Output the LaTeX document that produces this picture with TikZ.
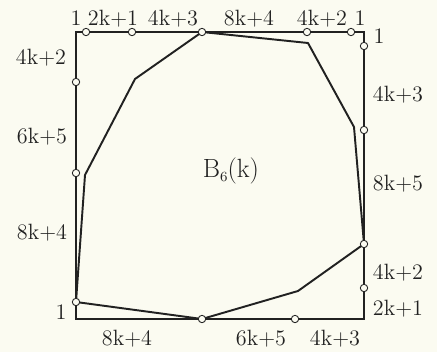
\documentclass[tikz,border=0pt]{standalone}
\definecolor{paper}{rgb}{0.985,0.985,0.945}
\definecolor{ink}{gray}{0.13}
\usepackage{tikz}
\usetikzlibrary{positioning,backgrounds}
\tikzset{
  frame/.style={ink,line width=0.6pt},
  hull/.style={ink,line width=1.1pt,line join=round},
  vtx/.style={circle,draw=ink,fill=paper,line width=0.5pt,inner sep=0pt,minimum size=4.2pt},
  seglab/.style={ink,inner sep=0pt,font=\fontsize{12.6}{14}\selectfont},
  titlelab/.style={ink,inner sep=0pt,font=\fontsize{15}{17}\selectfont},
}

\begin{document}
\begin{tikzpicture}[x=0.02cm,y=-0.02cm]
        \useasboundingbox (0,0) rectangle (437,352);
        % corners of the square
        \coordinate (tl) at (76,32);
        \coordinate (tr) at (364,32);
        \coordinate (br) at (364,319);
        \coordinate (bl) at (76,319);
        % inner corners of the hull
        \coordinate (p2) at (308,43);
        \coordinate (p3) at (354,127);
        \coordinate (p5) at (298,291);
        \coordinate (p8) at (85,175);
        \coordinate (p9) at (135,79);
        % marks on the sides
        \node[vtx] (t1) at (86,32) {};
        \node[vtx] (t2) at (132,32) {};
        \node[vtx] (t3) at (202,32) {};
        \node[vtx] (t4) at (307,32) {};
        \node[vtx] (t5) at (351,32) {};
        \node[vtx] (r1) at (364,46) {};
        \node[vtx] (r2) at (364,130) {};
        \node[vtx] (r3) at (364,244) {};
        \node[vtx] (r4) at (364,288) {};
        \node[vtx] (b1) at (202,319) {};
        \node[vtx] (b2) at (295,319) {};
        \node[vtx] (l1) at (76,82) {};
        \node[vtx] (l2) at (76,173) {};
        \node[vtx] (l3) at (76,302) {};
        \begin{scope}[on background layer]
          \fill[paper] (0,0) rectangle (437,352);
          \draw[frame] (tl) -- (tr) -- (br) -- (bl) -- cycle;
          \draw[hull] (t3.center) -- (p2) -- (p3) -- (r3.center) -- (p5)
                -- (b1.center) -- (l3.center) -- (p8) -- (p9) -- cycle;
        \end{scope}
        % top
        \node[seglab] (lt1) at (76,18.5) {1};
        \node[seglab] (lt2) at (113,18.5) {2k+1};
        \node[seglab] (lt3) at (173,18.5) {4k+3};
        \node[seglab] (lt4) at (249,18.5) {8k+4};
        \node[seglab] (lt5) at (322,18.5) {4k+2};
        \node[seglab] (lt6) at (360,18.5) {1};
        % right
        \node[seglab] (lr1) at (379,36.5) {1};
        \node[seglab] (lr2) at (398,95) {4k+3};
        \node[seglab] (lr3) at (398,183.5) {8k+5};
        \node[seglab] (lr4) at (398,273) {4k+2};
        \node[seglab] (lr5) at (398,308.5) {2k+1};
        % left
        \node[seglab] (ll1) at (41,57.5) {4k+2};
        \node[seglab] (ll2) at (42,136.5) {6k+5};
        \node[seglab] (ll3) at (42,232.5) {8k+4};
        \node[seglab] (ll4) at (61,312.5) {1};
        % bottom
        \node[seglab] (lb1) at (127,338.5) {8k+4};
        \node[seglab] (lb2) at (261,339) {6k+5};
        \node[seglab] (lb3) at (335,339) {4k+3};
        \node[titlelab] (name) at (231,171) {B\raisebox{-0.35ex}{\fontsize{8}{8}\selectfont 6}(k)};
      \end{tikzpicture}
\end{document}
